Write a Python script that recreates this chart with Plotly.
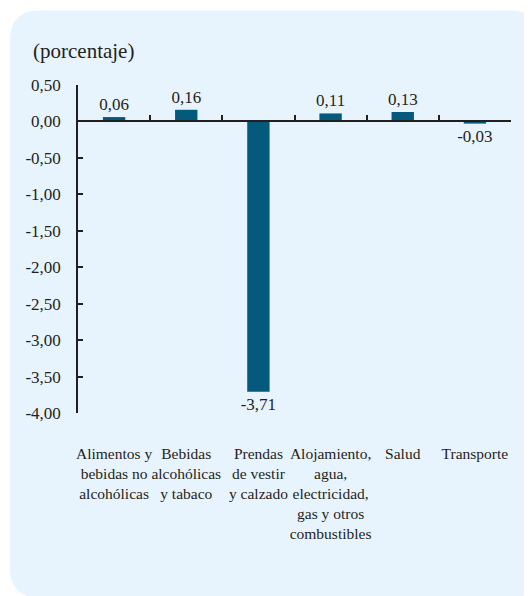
import plotly.graph_objects as go

categories = [
    "Alimentos y<br>bebidas no<br>alcohólicas",
    "Bebidas<br>alcohólicas<br>y tabaco",
    "Prendas<br>de vestir<br>y calzado",
    "Alojamiento,<br>agua,<br>electricidad,<br>gas y otros<br>combustibles",
    "Salud",
    "Transporte",
]
values = [0.06, 0.16, -3.71, 0.11, 0.13, -0.03]
y_tick_values = [0.5, 0.0, -0.5, -1.0, -1.5, -2.0, -2.5, -3.0, -3.5, -4.0]
y_title = "(porcentaje)"

OFF = 8  # page body margin
W, H = 532 - OFF, 596 - OFF
# plot area in screen pixels
SX0, SX1, SY0, SY1 = 78, 511, 84.5, 413
ML, MR, MT, MB = SX0 - OFF, W - (SX1 - OFF), SY0 - OFF, H - (SY1 - OFF)
PW = W - ML - MR
PH = H - MT - MB

def fx(sx):
    return (sx - SX0) / PW

def fy(sy):
    return (SY1 - sy) / PH

TEXT = "#231F20"
BAR = "#045A7D"
PANEL = "#E8F4FD"
FONT = "Liberation Serif"

def fmt(v):
    return f"{v:.2f}".replace(".", ",")

labels = [fmt(v) for v in values]
y_tick_text = [fmt(v) for v in y_tick_values]

fig = go.Figure()
fig.add_trace(go.Bar(
    x=list(range(len(categories))),
    y=values,
    width=0.31,
    marker=dict(color=BAR, line=dict(width=0)),
    text=labels,
    textposition="outside",
    constraintext="none",
    textfont=dict(family=FONT, size=17, color=TEXT),
    cliponaxis=False,
    hoverinfo="skip",
))
# invisible trace carrying the category-boundary axis drawn at zero
fig.add_trace(go.Scatter(x=[0], y=[0], xaxis="x2", yaxis="y",
                         mode="markers", marker=dict(opacity=0),
                         hoverinfo="skip", showlegend=False))

# rounded panel (screen pixel corners)
x0, y0, x1, y1, r = 10, 10, 540, 598, 30
pts = lambda a, b: f"{fx(a):.5f},{fy(b):.5f}"
path = (f"M {pts(x0+r, y0)} L {pts(x1-r, y0)} Q {pts(x1, y0)} {pts(x1, y0+r)} "
        f"L {pts(x1, y1-r)} Q {pts(x1, y1)} {pts(x1-r, y1)} "
        f"L {pts(x0+r, y1)} Q {pts(x0, y1)} {pts(x0, y1-r)} "
        f"L {pts(x0, y0+r)} Q {pts(x0, y0)} {pts(x0+r, y0)} Z")
fig.add_shape(type="path", path=path, xref="paper", yref="paper",
              fillcolor=PANEL, line=dict(width=0), layer="below")

ymin, ymax = -4.0, 0.5
zero_pos = (0 - ymin) / (ymax - ymin)

fig.update_layout(
    width=W, height=H,
    margin=dict(l=ML, r=MR, t=MT, b=MB, pad=0),
    paper_bgcolor="white",
    plot_bgcolor="rgba(0,0,0,0)",
    separators=",.",
    showlegend=False,
    font=dict(family=FONT, size=15, color=TEXT),
    xaxis=dict(
        range=[-0.5, len(categories) - 0.5],
        tickmode="array",
        tickvals=list(range(len(categories))),
        ticktext=categories,
        showline=False, showgrid=False, zeroline=False,
        ticks="",
        tickangle=0,
        ticklabelstandoff=29,
        tickfont=dict(family=FONT, size=15.5, color=TEXT),
        fixedrange=True,
    ),
    xaxis2=dict(
        overlaying="x",
        anchor="free",
        position=zero_pos,
        side="bottom",
        range=[-0.5, len(categories) - 0.5],
        tickmode="array",
        tickvals=[i + 0.5 for i in range(len(categories))],
        ticks="inside", ticklen=6, tickwidth=1.5, tickcolor=TEXT,
        showticklabels=False,
        showline=True, linecolor=TEXT, linewidth=1.5,
        showgrid=False, zeroline=False,
        fixedrange=True,
    ),
    yaxis=dict(
        range=[ymin, ymax],
        tickmode="array",
        tickvals=y_tick_values,
        ticktext=y_tick_text,
        ticks="inside", ticklen=5, tickwidth=1.5, tickcolor=TEXT,
        showline=True, linecolor=TEXT, linewidth=1.5,
        showgrid=False, zeroline=False,
        ticklabelstandoff=12,
        tickfont=dict(family=FONT, size=17, color=TEXT),
        fixedrange=True,
    ),
    annotations=[dict(
        text=y_title, xref="paper", yref="paper",
        x=fx(31), y=fy(50), xanchor="left", yanchor="middle",
        showarrow=False, font=dict(family=FONT, size=21, color=TEXT),
    )],
)

fig.write_html("out.html")
